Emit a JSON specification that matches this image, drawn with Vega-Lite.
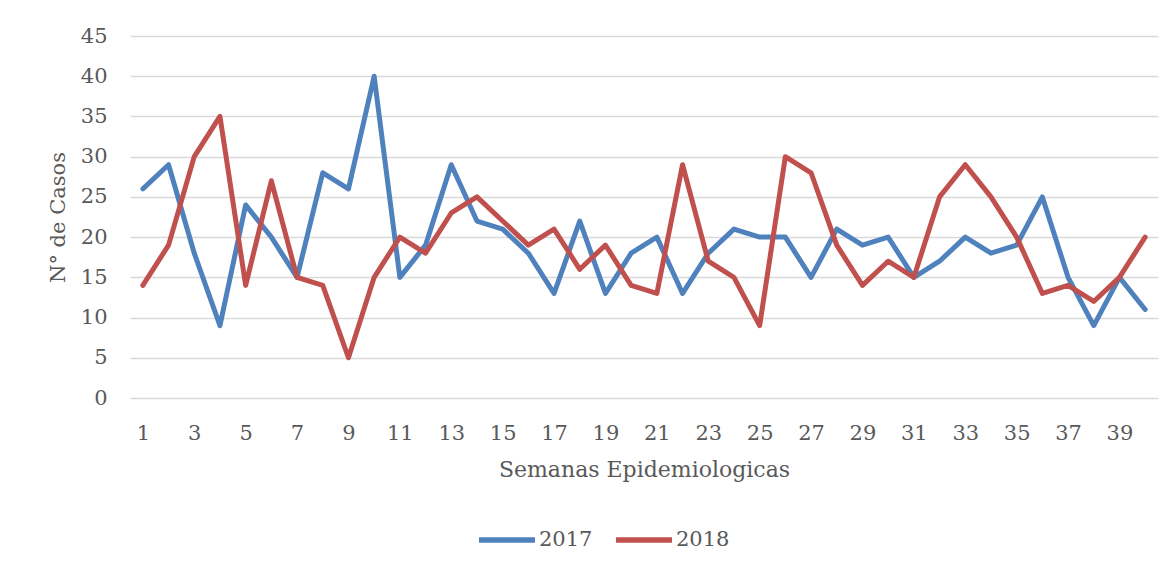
{
  "$schema": "https://vega.github.io/schema/vega-lite/v6.json",
  "width": 1028,
  "height": 362,
  "autosize": "none",
  "padding": {"left": 130, "top": 36, "right": 18, "bottom": 173},
  "background": "white",
  "config": {
    "view": {"stroke": null},
    "font": "DejaVu Serif"
  },
  "data": {
    "values": [
      {"semana": 1, "anio": "2017", "casos": 26}, {"semana": 2, "anio": "2017", "casos": 29},
      {"semana": 3, "anio": "2017", "casos": 18}, {"semana": 4, "anio": "2017", "casos": 9},
      {"semana": 5, "anio": "2017", "casos": 24}, {"semana": 6, "anio": "2017", "casos": 20},
      {"semana": 7, "anio": "2017", "casos": 15}, {"semana": 8, "anio": "2017", "casos": 28},
      {"semana": 9, "anio": "2017", "casos": 26}, {"semana": 10, "anio": "2017", "casos": 40},
      {"semana": 11, "anio": "2017", "casos": 15}, {"semana": 12, "anio": "2017", "casos": 19},
      {"semana": 13, "anio": "2017", "casos": 29}, {"semana": 14, "anio": "2017", "casos": 22},
      {"semana": 15, "anio": "2017", "casos": 21}, {"semana": 16, "anio": "2017", "casos": 18},
      {"semana": 17, "anio": "2017", "casos": 13}, {"semana": 18, "anio": "2017", "casos": 22},
      {"semana": 19, "anio": "2017", "casos": 13}, {"semana": 20, "anio": "2017", "casos": 18},
      {"semana": 21, "anio": "2017", "casos": 20}, {"semana": 22, "anio": "2017", "casos": 13},
      {"semana": 23, "anio": "2017", "casos": 18}, {"semana": 24, "anio": "2017", "casos": 21},
      {"semana": 25, "anio": "2017", "casos": 20}, {"semana": 26, "anio": "2017", "casos": 20},
      {"semana": 27, "anio": "2017", "casos": 15}, {"semana": 28, "anio": "2017", "casos": 21},
      {"semana": 29, "anio": "2017", "casos": 19}, {"semana": 30, "anio": "2017", "casos": 20},
      {"semana": 31, "anio": "2017", "casos": 15}, {"semana": 32, "anio": "2017", "casos": 17},
      {"semana": 33, "anio": "2017", "casos": 20}, {"semana": 34, "anio": "2017", "casos": 18},
      {"semana": 35, "anio": "2017", "casos": 19}, {"semana": 36, "anio": "2017", "casos": 25},
      {"semana": 37, "anio": "2017", "casos": 15}, {"semana": 38, "anio": "2017", "casos": 9},
      {"semana": 39, "anio": "2017", "casos": 15}, {"semana": 40, "anio": "2017", "casos": 11},
      {"semana": 1, "anio": "2018", "casos": 14}, {"semana": 2, "anio": "2018", "casos": 19},
      {"semana": 3, "anio": "2018", "casos": 30}, {"semana": 4, "anio": "2018", "casos": 35},
      {"semana": 5, "anio": "2018", "casos": 14}, {"semana": 6, "anio": "2018", "casos": 27},
      {"semana": 7, "anio": "2018", "casos": 15}, {"semana": 8, "anio": "2018", "casos": 14},
      {"semana": 9, "anio": "2018", "casos": 5}, {"semana": 10, "anio": "2018", "casos": 15},
      {"semana": 11, "anio": "2018", "casos": 20}, {"semana": 12, "anio": "2018", "casos": 18},
      {"semana": 13, "anio": "2018", "casos": 23}, {"semana": 14, "anio": "2018", "casos": 25},
      {"semana": 15, "anio": "2018", "casos": 22}, {"semana": 16, "anio": "2018", "casos": 19},
      {"semana": 17, "anio": "2018", "casos": 21}, {"semana": 18, "anio": "2018", "casos": 16},
      {"semana": 19, "anio": "2018", "casos": 19}, {"semana": 20, "anio": "2018", "casos": 14},
      {"semana": 21, "anio": "2018", "casos": 13}, {"semana": 22, "anio": "2018", "casos": 29},
      {"semana": 23, "anio": "2018", "casos": 17}, {"semana": 24, "anio": "2018", "casos": 15},
      {"semana": 25, "anio": "2018", "casos": 9}, {"semana": 26, "anio": "2018", "casos": 30},
      {"semana": 27, "anio": "2018", "casos": 28}, {"semana": 28, "anio": "2018", "casos": 19},
      {"semana": 29, "anio": "2018", "casos": 14}, {"semana": 30, "anio": "2018", "casos": 17},
      {"semana": 31, "anio": "2018", "casos": 15}, {"semana": 32, "anio": "2018", "casos": 25},
      {"semana": 33, "anio": "2018", "casos": 29}, {"semana": 34, "anio": "2018", "casos": 25},
      {"semana": 35, "anio": "2018", "casos": 20}, {"semana": 36, "anio": "2018", "casos": 13},
      {"semana": 37, "anio": "2018", "casos": 14}, {"semana": 38, "anio": "2018", "casos": 12},
      {"semana": 39, "anio": "2018", "casos": 15}, {"semana": 40, "anio": "2018", "casos": 20}
    ]
  },
  "mark": {"type": "line", "strokeWidth": 5, "strokeJoin": "round", "strokeCap": "round"},
  "encoding": {
    "x": {
      "field": "semana",
      "type": "ordinal",
      "sort": "ascending",
      "scale": {"type": "point", "padding": 0.5},
      "axis": {
        "title": "Semanas Epidemiologicas",
        "titleFont": "DejaVu Serif",
        "titleFontSize": 22,
        "titleFontWeight": "normal",
        "titleColor": "#595959",
        "titlePadding": 16,
        "labelAngle": 0,
        "labelFont": "DejaVu Serif",
        "labelFontSize": 21,
        "labelColor": "#595959",
        "labelPadding": 24,
        "values": [1, 3, 5, 7, 9, 11, 13, 15, 17, 19, 21, 23, 25, 27, 29, 31, 33, 35, 37, 39],
        "ticks": false,
        "domain": false,
        "grid": false
      }
    },
    "y": {
      "field": "casos",
      "type": "quantitative",
      "scale": {"domain": [0, 45], "nice": false},
      "axis": {
        "title": "N° de Casos",
        "titleFont": "DejaVu Serif",
        "titleFontSize": 21,
        "titleFontWeight": "normal",
        "titleColor": "#595959",
        "titlePadding": 12,
        "values": [0, 5, 10, 15, 20, 25, 30, 35, 40, 45],
        "labelFont": "DejaVu Serif",
        "labelFontSize": 21,
        "labelColor": "#595959",
        "labelPadding": 23,
        "ticks": false,
        "domain": false,
        "grid": true,
        "gridColor": "#d9d9d9",
        "gridWidth": 1.5
      }
    },
    "color": {
      "field": "anio",
      "type": "nominal",
      "scale": {"domain": ["2017", "2018"], "range": ["#4f81bd", "#c0504d"]},
      "legend": {
        "title": null,
        "orient": "none",
        "direction": "horizontal",
        "legendX": 346,
        "legendY": 473,
        "symbolType": "stroke",
        "symbolSize": 3136,
        "symbolStrokeWidth": 5.5,
        "labelFont": "DejaVu Serif",
        "labelFontSize": 21,
        "labelColor": "#595959",
        "labelOffset": 1,
        "columnPadding": 12
      }
    }
  }
}
